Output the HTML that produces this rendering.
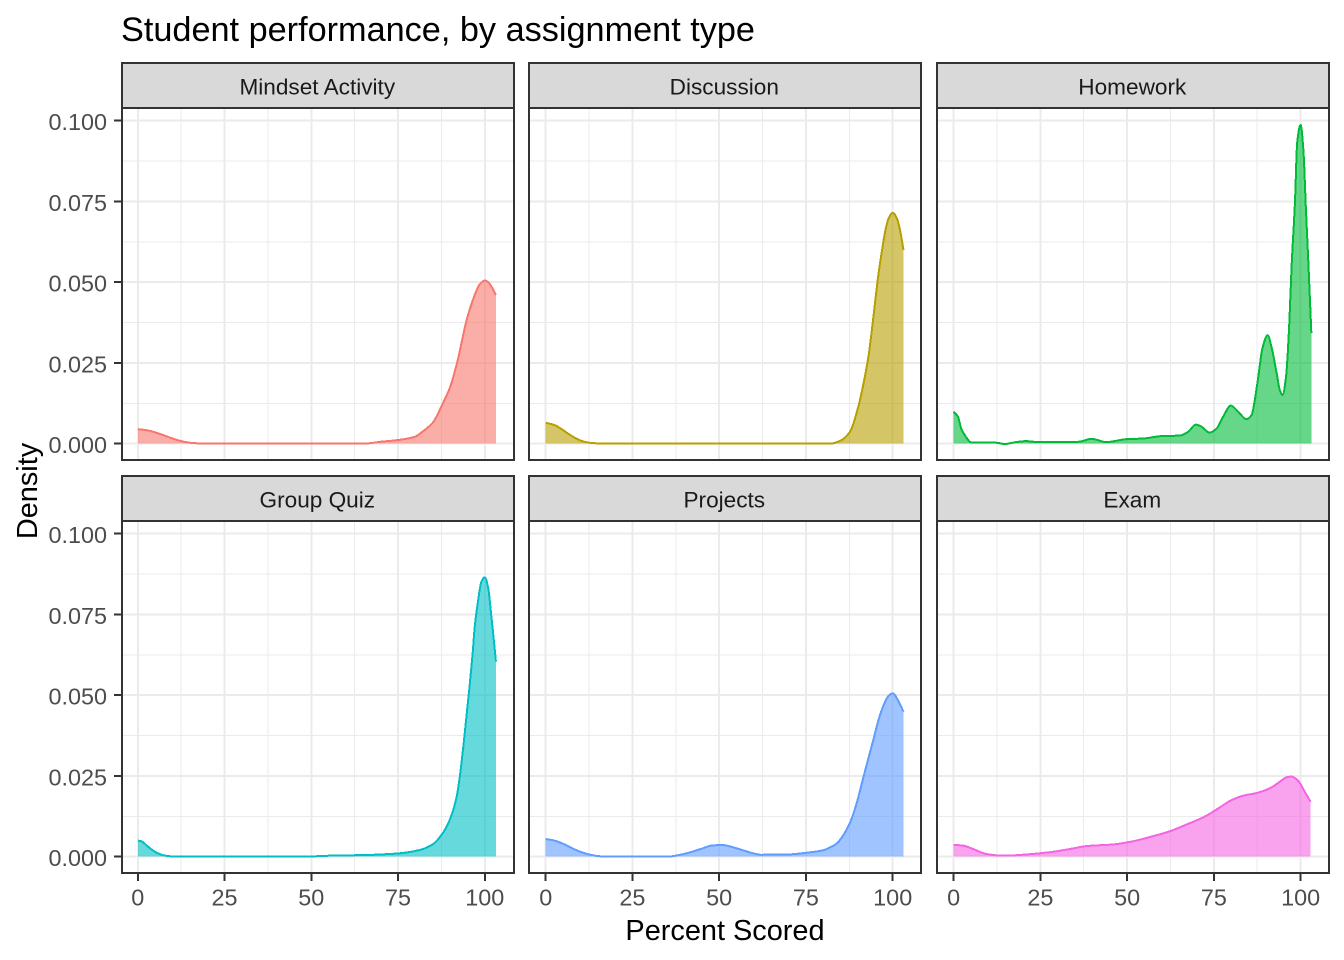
<!DOCTYPE html>
<html lang="en">
<head>
<meta charset="utf-8">
<title>Student performance, by assignment type</title>
<style>
html,body{margin:0;padding:0;background:#fff;}
svg{display:block;font-family:"Liberation Sans",Arial,sans-serif;}
line,rect,path{shape-rendering:crispEdges;}
</style>
</head>
<body>
<svg id="chart" xmlns="http://www.w3.org/2000/svg" width="1344" height="960" viewBox="0 0 1344 960">
  <rect x="0" y="0" width="1344" height="960" fill="#ffffff"/>
  <text x="121" y="41" font-size="34.25" fill="#000">Student performance, by assignment type</text>
  <text transform="translate(37,491) rotate(-90)" text-anchor="middle" font-size="28.9" fill="#000">Density</text>
  <text x="725" y="940" text-anchor="middle" font-size="28.9" fill="#000">Percent Scored</text>
  <g id="panels"></g>
</svg>
<script>
const xTickValues = [0, 25, 50, 75, 100];
const xTickLabels = ["0", "25", "50", "75", "100"];
const xMinorValues = [12.5, 37.5, 62.5, 87.5];
const yTickValues = [0, 0.025, 0.05, 0.075, 0.1];
const yTickLabels = ["0.000", "0.025", "0.050", "0.075", "0.100"];
const yMinorValues = [0.0125, 0.0375, 0.0625, 0.0875];

const panelTitles = ["Mindset Activity", "Discussion", "Homework", "Group Quiz", "Projects", "Exam"];
const panelColors = ["#F8766D", "#B79F00", "#00BA38", "#00BFC4", "#619CFF", "#F564E3"];

const mindsetX = [0, 2.5, 5, 7.5, 10, 12.5, 15, 17.5, 20, 40, 65, 70, 75.5, 80, 82, 85, 88, 90, 92, 94.8, 96.6, 98.5, 100, 101, 102, 103.2];
const mindsetY = [0.0045, 0.0042, 0.0035, 0.0026, 0.0016, 0.0008, 0.0003, 0.0001, 0, 0, 0, 0.0006, 0.0012, 0.0022, 0.0037, 0.0065, 0.0127, 0.0175, 0.025, 0.0384, 0.0446, 0.0493, 0.0505, 0.05, 0.0485, 0.046];

const discussionX = [0, 2.5, 5, 7.5, 10, 12.5, 15, 18, 40, 82, 84.9, 87.7, 90.1, 91.6, 93, 94, 95, 95.9, 96.8, 97.8, 98.8, 100, 101.2, 102.1, 103.1];
const discussionY = [0.0065, 0.0058, 0.0042, 0.0024, 0.001, 0.0003, 0.0001, 0, 0, 0, 0.0009, 0.0037, 0.0115, 0.0187, 0.0269, 0.0352, 0.0445, 0.0525, 0.059, 0.0655, 0.0697, 0.0715, 0.0698, 0.0662, 0.06];

const homeworkX = [0, 1.25, 2.2, 3.2, 5.1, 12.3, 14.7, 18, 21, 23, 36, 39.7, 44, 49.8, 54.6, 60.4, 65.2, 67.6, 69.8, 71.4, 73.8, 75.8, 77.7, 79.9, 82, 84.4, 85.9, 86.8, 87.8, 89, 90.5, 91.6, 93.1, 94, 94.8, 95.8, 96.7, 97.4, 98.4, 99, 100, 100.8, 101.5, 102.2, 103.1];
const homeworkY = [0.0099, 0.0084, 0.0047, 0.0027, 0.0004, 0.0003, -0.0001, 0.0005, 0.0008, 0.0006, 0.0006, 0.0015, 0.0005, 0.0014, 0.0016, 0.0024, 0.0025, 0.0037, 0.0059, 0.0053, 0.0034, 0.0047, 0.0084, 0.0118, 0.0099, 0.0076, 0.0089, 0.0135, 0.0207, 0.0295, 0.0336, 0.03, 0.0218, 0.0166, 0.0151, 0.0207, 0.0362, 0.0548, 0.0754, 0.093, 0.0987, 0.0909, 0.0734, 0.0569, 0.0342];

const groupQuizX = [0, 1, 2.5, 5, 7.5, 10, 50, 55, 65, 75, 81.3, 85.1, 87.7, 89.9, 91.9, 92.8, 93.8, 94.7, 95.7, 96.5, 97.1, 98.1, 99, 100, 101, 101.7, 102.6, 103.2];
const groupQuizY = [0.005, 0.0048, 0.0035, 0.0015, 0.0004, 0.0001, 0.0001, 0.0003, 0.0005, 0.001, 0.0021, 0.0039, 0.007, 0.0114, 0.0186, 0.0248, 0.034, 0.0433, 0.0537, 0.063, 0.0712, 0.0795, 0.0851, 0.0865, 0.0831, 0.0764, 0.0671, 0.0604];

const projectsX = [0, 2.5, 5, 7.5, 10, 12.5, 15, 17.5, 35, 40, 45, 48, 51, 55, 60, 62, 70, 75, 80, 82, 83.9, 85.8, 87.7, 89.6, 91.6, 93, 94.4, 95.9, 97.3, 98.8, 100, 101.6, 103.1];
const projectsY = [0.0055, 0.005, 0.004, 0.0027, 0.0015, 0.0007, 0.0002, 0, 0, 0.0009, 0.0025, 0.0035, 0.0036, 0.0026, 0.001, 0.0006, 0.0007, 0.0012, 0.002, 0.0029, 0.0041, 0.0067, 0.0105, 0.0165, 0.0248, 0.0305, 0.0361, 0.0423, 0.0467, 0.0498, 0.0506, 0.0483, 0.0449];

const examX = [0, 2.9, 5.8, 9.6, 14.4, 21.1, 27.8, 33.6, 38.4, 46.1, 51.8, 57.6, 62.4, 67.2, 72, 76.8, 79.7, 83.5, 87.3, 91.2, 94, 96, 97.4, 99.3, 101.2, 102.9];
const examY = [0.0037, 0.0034, 0.0023, 0.0008, 0.0003, 0.0007, 0.0014, 0.0024, 0.0033, 0.0038, 0.0048, 0.0064, 0.0079, 0.01, 0.0122, 0.0153, 0.0173, 0.0189, 0.0197, 0.0212, 0.0232, 0.0246, 0.0248, 0.0235, 0.0201, 0.017];

const seriesX = [mindsetX, discussionX, homeworkX, groupQuizX, projectsX, examX];
const seriesY = [mindsetY, discussionY, homeworkY, groupQuizY, projectsY, examY];

const NS = "http://www.w3.org/2000/svg";
const root = document.getElementById("panels");

/* Layout of one facet */
function panelLeft(col) { return [122, 529, 937][col]; }
function panelTop(row) { return row === 0 ? 63 : 476; }
const panelW = 392;
const stripH = 45;
const plotH = 352;

function xScale(col, v) { return 137.8 + 407.9 * col + v * 3.47; }
function yScale(row, v) { return 443.7 + 413 * row - v * 3230; }

function make(tag, attrs, parent) {
  const e = document.createElementNS(NS, tag);
  for (const k in attrs) e.setAttribute(k, attrs[k]);
  parent.appendChild(e);
  return e;
}

/* Monotone cubic path through the points */
function curve(px, py) {
  const n = px.length, d = [], m = [];
  for (let i = 0; i < n - 1; i++) d.push((py[i + 1] - py[i]) / (px[i + 1] - px[i]));
  m.push(d[0]);
  for (let i = 1; i < n - 1; i++) {
    if (d[i - 1] * d[i] <= 0) { m.push(0); continue; }
    const h0 = px[i] - px[i - 1], h1 = px[i + 1] - px[i];
    m.push(3 * (h0 + h1) / ((2 * h1 + h0) / d[i - 1] + (h1 + 2 * h0) / d[i]));
  }
  m.push(d[n - 2]);
  let s = "M" + px[0].toFixed(2) + "," + py[0].toFixed(2);
  for (let i = 0; i < n - 1; i++) {
    const h = (px[i + 1] - px[i]) / 3;
    s += "C" + (px[i] + h).toFixed(2) + "," + (py[i] + m[i] * h).toFixed(2) + " " +
         (px[i + 1] - h).toFixed(2) + "," + (py[i + 1] - m[i + 1] * h).toFixed(2) + " " +
         px[i + 1].toFixed(2) + "," + py[i + 1].toFixed(2);
  }
  return s;
}

panelTitles.forEach(function (title, idx) {
  const col = idx % 3, row = Math.floor(idx / 3);
  const L = panelLeft(col), T = panelTop(row), P = T + stripH;
  const g = make("g", {}, root);
  
  

  xMinorValues.forEach(function (v) {
    const ln = make("line", { x1: xScale(col, v), x2: xScale(col, v), y1: P, y2: P + plotH, stroke: "#EBEBEB", "stroke-width": 1 }, g);
    
    
  });
  yMinorValues.forEach(function (v) {
    const ln = make("line", { x1: L, x2: L + panelW, y1: yScale(row, v), y2: yScale(row, v), stroke: "#EBEBEB", "stroke-width": 1 }, g);
    
    
  });
  xTickValues.forEach(function (v) {
    const ln = make("line", { x1: xScale(col, v), x2: xScale(col, v), y1: P, y2: P + plotH, stroke: "#EBEBEB", "stroke-width": 2 }, g);
    
    
  });
  yTickValues.forEach(function (v) {
    const ln = make("line", { x1: L, x2: L + panelW, y1: yScale(row, v), y2: yScale(row, v), stroke: "#EBEBEB", "stroke-width": 2 }, g);
    
    
  });

  const px = seriesX[idx].map(function (v) { return xScale(col, v); });
  const py = seriesY[idx].map(function (v) { return yScale(row, v); });
  const top = curve(px, py);
  const base = yScale(row, 0).toFixed(2);
  const area = make("path", { d: top + "L" + px[px.length - 1].toFixed(2) + "," + base + "L" + px[0].toFixed(2) + "," + base + "Z", fill: panelColors[idx], "fill-opacity": 0.6, stroke: "none" }, g);
  
  
  const line = make("path", { d: top, fill: "none", stroke: panelColors[idx], "stroke-width": 2 }, g);
  
  

  const border = make("rect", { x: L, y: P, width: panelW, height: plotH, fill: "none", stroke: "#333333", "stroke-width": 2 }, g);
  
  
  const strip = make("rect", { x: L, y: T, width: panelW, height: stripH, fill: "#D9D9D9", stroke: "#333333", "stroke-width": 2 }, g);
  
  
  const label = make("text", { x: L + panelW / 2 - 0.7, y: T + 31.6, "text-anchor": "middle", "font-size": 22.6, fill: "#1A1A1A" }, g);
  
  
  label.textContent = title;

  if (col === 0) {
    yTickValues.forEach(function (v, i) {
      const t = make("line", { x1: L - 8, x2: L, y1: yScale(row, v), y2: yScale(row, v), stroke: "#333333", "stroke-width": 2 }, g);
      
      
      const tl = make("text", { x: L - 15, y: yScale(row, v) + 9.5, "text-anchor": "end", "font-size": 23.4, fill: "#4D4D4D" }, g);
      
      
      tl.textContent = yTickLabels[i];
    });
  }
  if (row === 1) {
    xTickValues.forEach(function (v, i) {
      const t = make("line", { x1: xScale(col, v), x2: xScale(col, v), y1: P + plotH, y2: P + plotH + 8, stroke: "#333333", "stroke-width": 2 }, g);
      
      
      const tl = make("text", { x: xScale(col, v), y: 905.5, "text-anchor": "middle", "font-size": 23.4, fill: "#4D4D4D" }, g);
      
      
      tl.textContent = xTickLabels[i];
    });
  }
});
</script>
</body>
</html>
